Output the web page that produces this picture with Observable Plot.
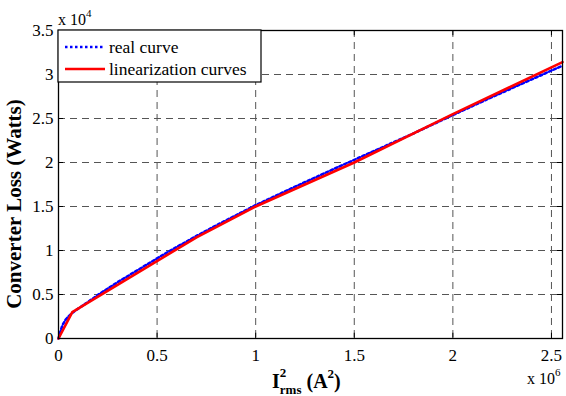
<!DOCTYPE html>
<html><head><meta charset="utf-8">
<script src="https://cdn.jsdelivr.net/npm/d3@7"></script>
<script src="https://cdn.jsdelivr.net/npm/@observablehq/plot@0.6"></script>
<style>body{margin:0;background:#fff;} svg, svg text, svg g{font-family:"Liberation Serif","Times New Roman",serif !important;}</style>
</head><body><div id="chart"></div>
<script>
// x in units of 10^6 A^2, y in units of 10^4 W
const realX = [0, 0.01, 0.02, 0.035, 0.05, 0.075, 0.1, 0.15, 0.2, 0.3, 0.4, 0.5, 0.6, 0.7, 0.8, 0.9, 1.0, 1.2, 1.4, 1.6, 1.8, 2.0, 2.2, 2.4, 2.556];
const realY = [0, 0.08, 0.15, 0.21, 0.25, 0.30, 0.34, 0.415, 0.495, 0.64, 0.775, 0.91, 1.04, 1.165, 1.285, 1.40, 1.515, 1.725, 1.93, 2.13, 2.33, 2.54, 2.745, 2.945, 3.10];
const linX = [0, 0.07, 0.7, 1.0, 1.5, 2.0, 2.556];
const linY = [0, 0.30, 1.15, 1.50, 2.00, 2.55, 3.14];
const xTicks = [0, 0.5, 1, 1.5, 2, 2.5];
const yTicks = [0, 0.5, 1, 1.5, 2, 2.5, 3, 3.5];
const seriesNames = ["real curve", "linearization curves"];
const seriesColors = ["#0000ff", "#ff0000"];
const xDomain = [0, 2.556];
const yDomain = [0, 3.5];

const real = realX.map((x, i) => ({x, y: realY[i]}));
const lin = linX.map((x, i) => ({x, y: linY[i]}));
const tickLenX = (yDomain[1] - yDomain[0]) * 0.017;
const tickLenY = (xDomain[1] - xDomain[0]) * 0.01;
const serif = "Liberation Serif";

const fmt = d => String(d);
const plot = Plot.plot({
  width: 566, height: 396,
  marginLeft: 58, marginRight: 4, marginTop: 30, marginBottom: 58,
  style: {background: "#fff"},
  x: {domain: xDomain},
  y: {domain: yDomain},
  marks: [
    Plot.ruleX(xTicks.filter(d => d > 0), {x: d => d, stroke: "#555", strokeWidth: 1, strokeDasharray: "7,5"}),
    Plot.ruleY(yTicks.filter(d => d > 0 && d < yDomain[1]), {y: d => d, stroke: "#555", strokeWidth: 1, strokeDasharray: "7,5"}),
    Plot.ruleX(xTicks, {x: d => d, y1: yDomain[0], y2: yDomain[0] + tickLenX, stroke: "black"}),
    Plot.ruleX(xTicks, {x: d => d, y1: yDomain[1], y2: yDomain[1] - tickLenX, stroke: "black"}),
    Plot.ruleY(yTicks, {y: d => d, x1: xDomain[0], x2: xDomain[0] + tickLenY, stroke: "black"}),
    Plot.ruleY(yTicks, {y: d => d, x1: xDomain[1], x2: xDomain[1] - tickLenY, stroke: "black"}),
    Plot.axisX({ticks: xTicks, tickFormat: fmt, tickSize: 0, tickPadding: 10, fontSize: 17, fontFamily: serif, fontVariant: "normal", label: null, fill: "black"}),
    Plot.axisY({ticks: yTicks, tickFormat: fmt, tickSize: 0, tickPadding: 5, fontSize: 17, fontFamily: serif, fontVariant: "normal", label: null, fill: "black"}),
    Plot.line(real, {x: "x", y: "y", stroke: seriesColors[0], strokeWidth: 2.6, strokeDasharray: "2.5,2.5"}),
    Plot.line(lin, {x: "x", y: "y", stroke: seriesColors[1], strokeWidth: 2.6}),
    Plot.frame({stroke: "black", strokeWidth: 1.3})
  ]
});
document.getElementById("chart").appendChild(plot);

const svg = d3.select(plot);
// exponent labels
const t4 = svg.append("text").attr("x", 58).attr("y", 25).attr("text-anchor", "start").attr("font-size", 16).attr("fill", "black").text("x 10");
t4.append("tspan").attr("font-size", 11).attr("dy", -8).text("4");
const t6 = svg.append("text").attr("x", 527).attr("y", 384).attr("text-anchor", "start").attr("font-size", 16).attr("fill", "black").text("x 10");
t6.append("tspan").attr("font-size", 11).attr("dy", -8).text("6");

// axis labels
const xl = svg.append("text").attr("x", 272).attr("y", 388).attr("text-anchor", "start").attr("font-size", 20).attr("font-weight", "bold").attr("fill", "black").text("I");
xl.append("tspan").attr("font-size", 13).attr("dy", -11).text("2");
xl.append("tspan").attr("font-size", 13).attr("dx", -6.5).attr("dy", 17).text("rms");
xl.append("tspan").attr("font-size", 20).attr("dx", 5).attr("dy", -6).text("(A");
xl.append("tspan").attr("font-size", 13).attr("dy", -10).text("2");
xl.append("tspan").attr("font-size", 20).attr("dy", 10).text(")");

svg.append("text").attr("transform", "translate(21,204) rotate(-90)").attr("text-anchor", "middle")
  .attr("font-size", 21).attr("font-weight", "bold").attr("fill", "black").text("Converter Loss (Watts)");

// legend
const lg = svg.append("g");
lg.append("rect").attr("x", 58).attr("y", 30).attr("width", 203).attr("height", 52).attr("fill", "white").attr("stroke", "black").attr("stroke-width", 1.2);
seriesNames.forEach((name, i) => {
  const yy = 47 + i * 22;
  lg.append("line").attr("x1", 65).attr("x2", 105).attr("y1", yy).attr("y2", yy)
    .attr("stroke", seriesColors[i]).attr("stroke-width", 2.6).attr("stroke-dasharray", i === 0 ? "2.5,2.5" : null);
  lg.append("text").attr("x", 109).attr("y", yy + 6).attr("text-anchor", "start").attr("font-size", 17.5).attr("fill", "black").text(name);
});
</script>
</body></html>
